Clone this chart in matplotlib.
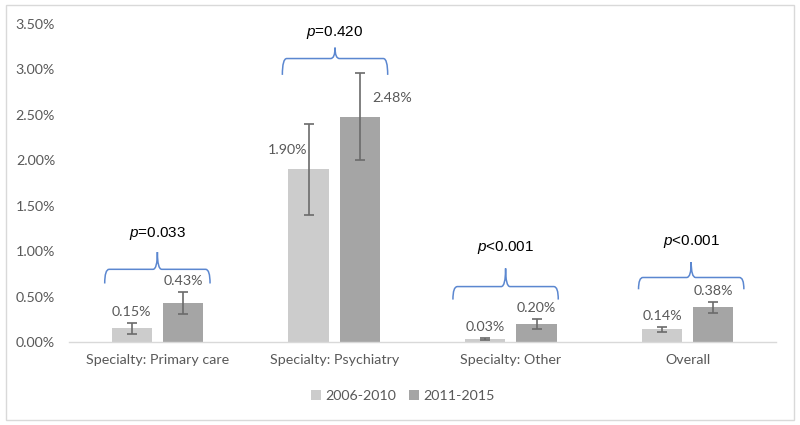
import matplotlib.pyplot as plt
import numpy as np
from matplotlib.path import Path
from matplotlib.patches import PathPatch, Rectangle

# data (percent)
categories = ['Specialty: Primary care', 'Specialty: Psychiatry', 'Specialty: Other', 'Overall']
period1 = [0.15, 1.90, 0.03, 0.14]
period2 = [0.43, 2.48, 0.20, 0.38]
err1 = [0.06, 0.50, 0.01, 0.03]
err2 = [0.12, 0.48, 0.055, 0.065]
pvalues = ['=0.033', '=0.420', '<0.001', '<0.001']
yticks = [0, 0.5, 1.0, 1.5, 2.0, 2.5, 3.0, 3.5]

# brace geometry per group: (end, line, tip, text) heights in %, plus x shift
brace_y = [(0.644, 0.80, 0.99, 1.19),
           (2.94, 3.12, 3.24, 3.41),
           (0.467, 0.61, 0.81, 1.04),
           (0.58, 0.71, 0.88, 1.11)]
brace_dx = [0.0, 0.005, -0.03, 0.02]

plt.rcParams['font.family'] = ['Lato', 'DejaVu Sans']
plt.rcParams['mathtext.fontset'] = 'custom'
plt.rcParams['mathtext.it'] = 'Liberation Sans:italic'
plt.rcParams['mathtext.rm'] = 'Liberation Sans'

fig = plt.figure(figsize=(8, 4.25), dpi=100)
ax = fig.add_axes([0.08625, 0.1953, 0.8838, 0.7482])

x = np.arange(len(categories))
w = 0.227
off = 0.145
light = '#cccccc'
dark = '#a5a5a5'
ecol = '#6b6b6b'
tcol = '#595959'
fs = 10.3

ax.bar(x - off, period1, w, color=light, label='2006-2010', zorder=2)
ax.bar(x + off, period2, w, color=dark, label='2011-2015', zorder=2)
ax.errorbar(x - off, period1, yerr=err1, fmt='none', ecolor=ecol, elinewidth=1.2, capsize=3.5, capthick=1.2, zorder=3)
ax.errorbar(x + off, period2, yerr=err2, fmt='none', ecolor=ecol, elinewidth=1.2, capsize=3.5, capthick=1.2, zorder=3)

# data labels
for i in range(len(categories)):
    for xs, v, e in ((x[i] - off, period1[i], err1[i]), (x[i] + off, period2[i], err2[i])):
        txt = '%.2f%%' % v
        if i == 1:
            # psychiatry labels sit beside the bars
            dx = -0.12 if xs < x[i] else 0.185
            ax.text(xs + dx, v + 0.21, txt, ha='center', va='center',
                    fontsize=fs, color=tcol)
        else:
            ax.annotate(txt, (xs, v + e), xytext=(0, 11), textcoords='offset pixels',
                        ha='center', va='center', fontsize=fs, color=tcol)

# braces with p-values
def brace(xc, half, y_end, y_line, y_tip, rx=0.025):
    x0, x1 = xc - half, xc + half
    verts = [(x0, y_end), (x0, y_line), (x0 + rx, y_line),
             (xc - rx, y_line), (xc, y_line), (xc, y_tip),
             (xc, y_line), (xc + rx, y_line),
             (x1 - rx, y_line), (x1, y_line), (x1, y_end)]
    codes = [Path.MOVETO, Path.CURVE3, Path.CURVE3,
             Path.LINETO, Path.CURVE3, Path.CURVE3,
             Path.CURVE3, Path.CURVE3,
             Path.LINETO, Path.CURVE3, Path.CURVE3]
    ax.add_patch(PathPatch(Path(verts, codes), fill=False, edgecolor='#5b87d0', lw=1.1, zorder=4))

for i in range(len(categories)):
    ye, yl, yt, ytxt = brace_y[i]
    xc = x[i] + brace_dx[i]
    brace(xc, 0.298, ye, yl, yt)
    ax.text(xc, ytxt, r'$p$' + pvalues[i], ha='center', va='center', fontsize=11,
            color='black', family='Liberation Sans')

ax.set_xlim(-0.5, 3.5)
ax.set_ylim(0, 3.5)
ax.set_yticks(yticks)
ax.set_yticklabels(['%.2f%%' % t for t in yticks])
ax.set_xticks(x)
ax.set_xticklabels(categories)
ax.tick_params(axis='both', length=0, labelsize=fs, colors=tcol)
ax.tick_params(axis='y', pad=10)
ax.tick_params(axis='x', pad=9)
for s in ['top', 'right', 'left']:
    ax.spines[s].set_visible(False)
ax.spines['bottom'].set_color('#d9d9d9')
ax.spines['bottom'].set_linewidth(1)

fig.legend(loc='center', bbox_to_anchor=(0.503, 0.068), ncol=2, frameon=False,
           handlelength=0.7, handleheight=0.7, handletextpad=0.3, columnspacing=0.9,
           fontsize=fs, labelcolor=tcol)

# outer frame
fig.patches.append(Rectangle((0.007, 0.012), 0.986, 0.976, transform=fig.transFigure,
                             fill=False, edgecolor='#d9d9d9', lw=1))

plt.savefig('out.png')
